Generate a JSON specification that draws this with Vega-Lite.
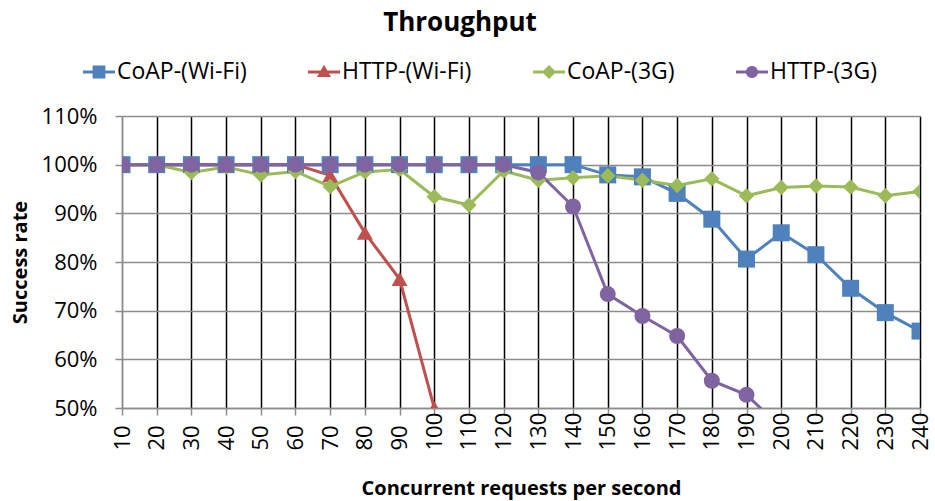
{
  "$schema": "https://vega.github.io/schema/vega-lite/v6.json",
  "width": 798,
  "height": 292,
  "autosize": {"type": "none"},
  "padding": {"left": 122, "top": 116, "right": 15, "bottom": 93},
  "background": "white",
  "title": {"text": "Throughput", "font": "Open Sans", "fontSize": 26, "fontWeight": "bold", "color": "black", "anchor": "middle", "frame": "group", "dx": -61, "offset": 20},
  "config": {"view": {"stroke": null}, "font": "Open Sans"},
  "data": {"values": [
    {"series": "CoAP-(Wi-Fi)", "x": 10, "y": 100}, {"series": "CoAP-(Wi-Fi)", "x": 20, "y": 100}, {"series": "CoAP-(Wi-Fi)", "x": 30, "y": 100}, {"series": "CoAP-(Wi-Fi)", "x": 40, "y": 100}, {"series": "CoAP-(Wi-Fi)", "x": 50, "y": 100}, {"series": "CoAP-(Wi-Fi)", "x": 60, "y": 100}, {"series": "CoAP-(Wi-Fi)", "x": 70, "y": 100}, {"series": "CoAP-(Wi-Fi)", "x": 80, "y": 100}, {"series": "CoAP-(Wi-Fi)", "x": 90, "y": 100}, {"series": "CoAP-(Wi-Fi)", "x": 100, "y": 100}, {"series": "CoAP-(Wi-Fi)", "x": 110, "y": 100}, {"series": "CoAP-(Wi-Fi)", "x": 120, "y": 100}, {"series": "CoAP-(Wi-Fi)", "x": 130, "y": 100}, {"series": "CoAP-(Wi-Fi)", "x": 140, "y": 100}, {"series": "CoAP-(Wi-Fi)", "x": 150, "y": 97.9}, {"series": "CoAP-(Wi-Fi)", "x": 160, "y": 97.5}, {"series": "CoAP-(Wi-Fi)", "x": 170, "y": 94.1}, {"series": "CoAP-(Wi-Fi)", "x": 180, "y": 88.8}, {"series": "CoAP-(Wi-Fi)", "x": 190, "y": 80.6}, {"series": "CoAP-(Wi-Fi)", "x": 200, "y": 86.0}, {"series": "CoAP-(Wi-Fi)", "x": 210, "y": 81.5}, {"series": "CoAP-(Wi-Fi)", "x": 220, "y": 74.6}, {"series": "CoAP-(Wi-Fi)", "x": 230, "y": 69.6}, {"series": "CoAP-(Wi-Fi)", "x": 240, "y": 65.8},
    {"series": "HTTP-(Wi-Fi)", "x": 10, "y": 100}, {"series": "HTTP-(Wi-Fi)", "x": 20, "y": 100}, {"series": "HTTP-(Wi-Fi)", "x": 30, "y": 100}, {"series": "HTTP-(Wi-Fi)", "x": 40, "y": 100}, {"series": "HTTP-(Wi-Fi)", "x": 50, "y": 100}, {"series": "HTTP-(Wi-Fi)", "x": 60, "y": 100}, {"series": "HTTP-(Wi-Fi)", "x": 70, "y": 97.8}, {"series": "HTTP-(Wi-Fi)", "x": 80, "y": 86.0}, {"series": "HTTP-(Wi-Fi)", "x": 90, "y": 76.5}, {"series": "HTTP-(Wi-Fi)", "x": 100, "y": 50.0},
    {"series": "CoAP-(3G)", "x": 10, "y": 100}, {"series": "CoAP-(3G)", "x": 20, "y": 100}, {"series": "CoAP-(3G)", "x": 30, "y": 98.4}, {"series": "CoAP-(3G)", "x": 40, "y": 99.5}, {"series": "CoAP-(3G)", "x": 50, "y": 97.9}, {"series": "CoAP-(3G)", "x": 60, "y": 98.6}, {"series": "CoAP-(3G)", "x": 70, "y": 95.5}, {"series": "CoAP-(3G)", "x": 80, "y": 98.5}, {"series": "CoAP-(3G)", "x": 90, "y": 99.0}, {"series": "CoAP-(3G)", "x": 100, "y": 93.4}, {"series": "CoAP-(3G)", "x": 110, "y": 91.7}, {"series": "CoAP-(3G)", "x": 120, "y": 98.7}, {"series": "CoAP-(3G)", "x": 130, "y": 96.8}, {"series": "CoAP-(3G)", "x": 140, "y": 97.3}, {"series": "CoAP-(3G)", "x": 150, "y": 97.7}, {"series": "CoAP-(3G)", "x": 160, "y": 96.8}, {"series": "CoAP-(3G)", "x": 170, "y": 95.7}, {"series": "CoAP-(3G)", "x": 180, "y": 97.1}, {"series": "CoAP-(3G)", "x": 190, "y": 93.6}, {"series": "CoAP-(3G)", "x": 200, "y": 95.3}, {"series": "CoAP-(3G)", "x": 210, "y": 95.6}, {"series": "CoAP-(3G)", "x": 220, "y": 95.4}, {"series": "CoAP-(3G)", "x": 230, "y": 93.6}, {"series": "CoAP-(3G)", "x": 240, "y": 94.5},
    {"series": "HTTP-(3G)", "x": 10, "y": 100}, {"series": "HTTP-(3G)", "x": 20, "y": 100}, {"series": "HTTP-(3G)", "x": 30, "y": 100}, {"series": "HTTP-(3G)", "x": 40, "y": 100}, {"series": "HTTP-(3G)", "x": 50, "y": 100}, {"series": "HTTP-(3G)", "x": 60, "y": 100}, {"series": "HTTP-(3G)", "x": 70, "y": 100}, {"series": "HTTP-(3G)", "x": 80, "y": 100}, {"series": "HTTP-(3G)", "x": 90, "y": 100}, {"series": "HTTP-(3G)", "x": 100, "y": 100}, {"series": "HTTP-(3G)", "x": 110, "y": 100}, {"series": "HTTP-(3G)", "x": 120, "y": 100}, {"series": "HTTP-(3G)", "x": 130, "y": 98.4}, {"series": "HTTP-(3G)", "x": 140, "y": 91.4}, {"series": "HTTP-(3G)", "x": 150, "y": 73.4}, {"series": "HTTP-(3G)", "x": 160, "y": 68.9}, {"series": "HTTP-(3G)", "x": 170, "y": 64.8}, {"series": "HTTP-(3G)", "x": 180, "y": 55.6}, {"series": "HTTP-(3G)", "x": 190, "y": 52.7}, {"series": "HTTP-(3G)", "x": 200, "y": 46.0}
  ]},
  "encoding": {
    "x": {"field": "x", "type": "quantitative",
      "scale": {"domain": [10, 240], "nice": false, "zero": false},
      "axis": {
        "values": [10, 20, 30, 40, 50, 60, 70, 80, 90, 100, 110, 120, 130, 140, 150, 160, 170, 180, 190, 200, 210, 220, 230, 240],
        "title": "Concurrent requests per second", "titleFont": "Open Sans", "titleFontSize": 20, "titleFontWeight": "bold", "titleColor": "black", "titlePadding": 28,
        "labelAngle": -90, "labelAlign": "left", "labelBaseline": "middle", "labelPadding": 35, "labelFontSize": 22, "labelFont": "Open Sans", "labelColor": "black",
        "labelFlush": false, "labelOverlap": false, "labelBound": false,
        "grid": true, "gridColor": {"condition": {"test": "datum.value === 10", "value": "#8c8c8c"}, "value": "#000000"}, "gridWidth": 1.5,
        "domainColor": "#8c8c8c", "domainWidth": 1.5, "tickColor": "#8c8c8c", "tickSize": 7, "tickWidth": 1.5
      }
    },
    "y": {"field": "y", "type": "quantitative",
      "scale": {"domain": [50, 110], "nice": false, "zero": false},
      "axis": {
        "values": [50, 60, 70, 80, 90, 100, 110], "labelExpr": "datum.value + '%'",
        "title": "Success rate", "titleFont": "Open Sans", "titleFontSize": 20, "titleFontWeight": "bold", "titleColor": "black", "titlePadding": 11,
        "labelFontSize": 22, "labelFont": "Open Sans", "labelColor": "black", "labelPadding": 18,
        "grid": true, "gridColor": "#8c8c8c", "gridWidth": 1.5,
        "domainColor": "#8c8c8c", "domainWidth": 1.5, "tickColor": "#8c8c8c", "tickSize": 7, "tickWidth": 1.5
      }
    },
    "color": {"field": "series", "type": "nominal",
      "scale": {"domain": ["CoAP-(Wi-Fi)", "HTTP-(Wi-Fi)", "CoAP-(3G)", "HTTP-(3G)"], "range": ["#4F81BD", "#C0504D", "#9BBB59", "#8064A2"]},
      "legend": {
        "orient": "none", "legendX": -39, "legendY": -60, "direction": "horizontal", "columns": 4, "title": null,
        "labelFontSize": 23, "labelFont": "Open Sans", "labelColor": "black", "labelOffset": 2,
        "symbolSize": 1024, "symbolStrokeWidth": 0, "symbolOpacity": 1, "columnPadding": 61,
        "encode": {"symbols": {"update": {
          "shape": {"signal": "datum.value === 'CoAP-(Wi-Fi)' ? 'M-1,-0.09H1V0.09H-1ZM-0.4,-0.4H0.4V0.4H-0.4Z' : datum.value === 'HTTP-(Wi-Fi)' ? 'M-1,-0.09H1V0.09H-1ZM0,-0.46L0.44,0.32H-0.44Z' : datum.value === 'CoAP-(3G)' ? 'M-1,-0.09H1V0.09H-1ZM0,-0.44L0.44,0L0,0.44L-0.44,0Z' : 'M-1,-0.09H1V0.09H-1ZM-0.38,0A0.38,0.38 0 1,1 0.38,0A0.38,0.38 0 1,1 -0.38,0Z'"}
        }}}
      }
    }
  },
  "layer": [
    {
      "mark": {"type": "line", "strokeWidth": 3, "clip": true}
    },
    {
      "transform": [{"filter": {"field": "series", "equal": "CoAP-(Wi-Fi)"}}],
      "mark": {"type": "point", "shape": "square", "size": 289, "filled": true, "opacity": 1, "clip": true}
    },
    {
      "transform": [{"filter": {"field": "series", "equal": "HTTP-(Wi-Fi)"}}],
      "mark": {"type": "point", "shape": "triangle-up", "size": 256, "filled": true, "opacity": 1, "clip": true}
    },
    {
      "transform": [{"filter": {"field": "series", "equal": "CoAP-(3G)"}}],
      "mark": {"type": "point", "shape": "diamond", "size": 240, "filled": true, "opacity": 1, "clip": true}
    },
    {
      "transform": [{"filter": {"field": "series", "equal": "HTTP-(3G)"}}],
      "mark": {"type": "point", "shape": "circle", "size": 256, "filled": true, "opacity": 1, "clip": true}
    }
  ]
}
